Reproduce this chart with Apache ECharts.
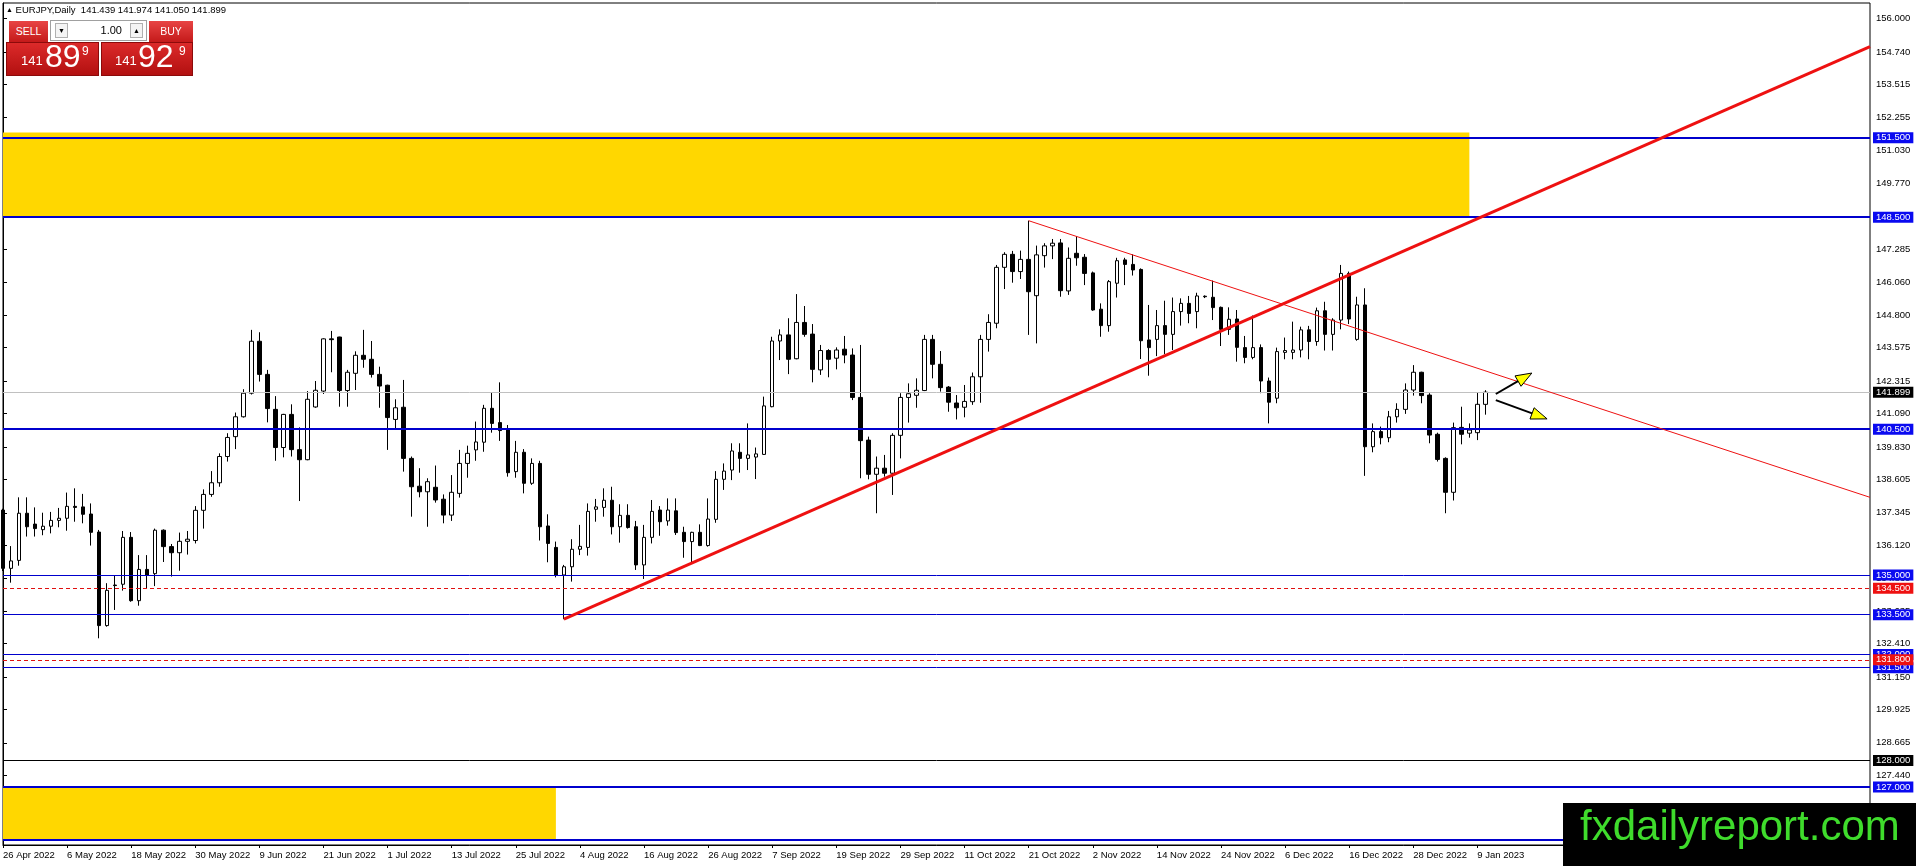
<!DOCTYPE html>
<html>
<head>
<meta charset="utf-8">
<script src="https://cdn.jsdelivr.net/npm/echarts@6/dist/echarts.min.js"></script>
<style>
html,body{margin:0;padding:0;background:#fff;}
#wrap{position:relative;width:1916px;height:866px;overflow:hidden;font-family:"Liberation Sans",Arial,sans-serif;}
#chart{position:absolute;left:0;top:0;width:1916px;height:866px;}
.abs{position:absolute;white-space:nowrap;}
#hdr{left:6px;top:4px;font-size:9.5px;line-height:12px;color:#000;}
#hdr .tri{font-size:7px;vertical-align:1px;}
.btn{background:linear-gradient(#e84444,#c41a1a);color:#fff;font-size:10.5px;text-align:center;line-height:21px;}
#sell{left:9px;top:21px;width:39px;height:21px;}
#buy{left:149px;top:21px;width:44px;height:21px;}
#lots{left:50px;top:20px;width:97px;height:21px;background:#fff;border:1px solid #a0a0a0;box-sizing:border-box;}
.spin{position:absolute;top:2px;width:13px;height:15px;border:1px solid #b0b0b0;box-sizing:border-box;font-size:7px;line-height:13px;text-align:center;color:#000;background:#f4f4f4;}
#lotval{position:absolute;right:24px;top:0;font-size:11px;line-height:19px;color:#000;}
.big{background:linear-gradient(#dc2a2a,#b21010);border:1px solid #8c0a0a;box-sizing:border-box;}
#bigL{left:6px;top:42px;width:93px;height:34px;}
#bigR{left:101px;top:42px;width:92px;height:34px;}
.pxs{font-size:13px;line-height:13px;color:#fff;}
.pxb{font-size:32px;line-height:32px;color:#fff;}
.pxu{font-size:12px;line-height:12px;color:#fff;}
#wm{left:1563px;top:803px;width:353px;height:63px;background:#000;}
#wmt{left:1580px;top:805px;font-size:42px;line-height:42px;color:#3fdc2c;}
</style>
</head>
<body>
<div id="wrap">
  <div id="chart"></div>
  <div id="hdr" class="abs"><span class="tri">▲</span> EURJPY,Daily&nbsp; 141.439 141.974 141.050 141.899</div>
  <div id="sell" class="abs btn">SELL</div>
  <div id="lots" class="abs"><div class="spin" style="left:4px;">▼</div><div id="lotval">1.00</div><div class="spin" style="left:79px;">▲</div></div>
  <div id="buy" class="abs btn">BUY</div>
  <div id="bigL" class="abs big"></div>
  <div id="bigR" class="abs big"></div>
  <div class="abs pxs" style="left:21px;top:54px;">141</div>
  <div class="abs pxb" style="left:45px;top:40px;">89</div>
  <div class="abs pxu" style="left:82px;top:45px;">9</div>
  <div class="abs pxs" style="left:115px;top:54px;">141</div>
  <div class="abs pxb" style="left:138px;top:40px;">92</div>
  <div class="abs pxu" style="left:179px;top:45px;">9</div>
  <div id="wm" class="abs"></div>
  <div id="wmt" class="abs">fxdailyreport.com</div>
</div>
<script>
// ---------- data ----------
const tickLabels = ['26 Apr 2022','6 May 2022','18 May 2022','30 May 2022','9 Jun 2022','21 Jun 2022','1 Jul 2022','13 Jul 2022','25 Jul 2022','4 Aug 2022','16 Aug 2022','26 Aug 2022','7 Sep 2022','19 Sep 2022','29 Sep 2022','11 Oct 2022','21 Oct 2022','2 Nov 2022','14 Nov 2022','24 Nov 2022','6 Dec 2022','16 Dec 2022','28 Dec 2022','9 Jan 2023'];

const opens = [
137.45,135.25,135.55,137.33,136.92,136.71,136.84,137.06,137.14,137.59,
137.57,137.30,136.62,133.09,134.62,134.65,136.42,134.03,135.21,135.05,
136.69,136.07,135.84,136.27,136.30,137.44,138.04,138.48,139.47,140.22,
140.97,141.86,143.82,142.57,141.25,139.81,141.06,139.73,139.35,141.34,
141.94,143.91,143.98,141.96,142.61,143.29,143.14,142.57,142.16,140.87,
141.33,139.40,138.35,138.14,138.31,137.86,137.26,138.08,139.21,139.72,
140.01,141.29,140.75,140.47,138.90,139.63,138.46,139.21,136.85,136.04,
135.00,135.31,135.97,136.04,137.48,137.55,137.82,136.82,137.25,136.82,
135.38,136.42,137.45,137.04,137.42,136.61,136.26,136.61,136.11,137.10,
138.61,138.96,139.63,139.40,139.45,139.55,141.35,143.83,144.06,143.16,
144.53,144.09,142.74,143.47,143.18,143.52,143.30,141.70,140.09,138.80,
139.03,138.84,140.27,141.70,141.78,141.96,143.89,142.95,142.09,141.49,
141.33,141.54,142.48,143.89,144.50,146.61,147.10,146.45,146.91,145.54,
147.05,147.42,147.53,145.72,147.14,146.99,146.40,145.03,144.41,146.01,
146.89,146.72,146.53,143.87,143.89,144.41,144.08,144.94,145.25,144.94,
145.52,145.48,145.10,144.27,144.66,143.58,143.21,143.58,142.32,141.67,
143.40,143.40,143.49,144.25,143.81,144.97,144.08,144.62,146.38,143.89,
145.19,139.84,140.41,140.18,140.97,141.25,141.98,142.65,141.79,140.31,
139.40,138.12,140.57,140.35,140.37,141.439];

const highs = [
137.50,136.09,137.93,137.93,137.55,137.35,137.38,137.53,138.11,138.27,
138.06,137.70,136.70,134.69,134.99,136.66,136.62,135.75,135.75,136.75,
136.72,136.17,136.60,136.66,137.60,138.23,138.92,139.59,140.35,141.13,
142.01,144.25,144.16,142.74,141.75,141.08,141.44,140.57,141.94,142.32,
143.93,144.21,143.99,142.74,143.44,144.25,143.83,142.86,142.18,141.63,
142.36,139.47,139.03,138.65,139.13,138.04,138.77,139.72,139.88,140.79,
141.42,141.89,142.27,140.66,140.06,139.75,139.40,139.31,137.29,136.26,
135.38,136.35,136.89,137.70,137.87,138.27,138.33,137.67,137.67,137.04,
136.89,137.83,137.60,137.89,137.89,136.82,136.63,136.91,137.89,138.92,
139.21,139.97,139.97,140.72,139.81,141.73,143.99,144.27,144.69,145.60,
145.15,144.47,143.68,143.52,143.59,144.02,143.55,143.68,140.22,139.47,
139.53,140.35,141.86,142.23,142.42,144.06,144.06,143.45,142.13,141.79,
142.17,142.64,144.06,144.84,146.70,147.18,147.23,147.24,148.37,147.43,
147.52,147.68,147.68,147.36,147.79,147.11,146.45,145.25,146.13,146.97,
146.97,147.10,146.57,145.19,145.00,145.35,145.47,145.44,145.53,145.65,
145.55,146.11,145.13,145.10,145.00,144.02,144.79,143.70,142.45,143.58,
143.96,144.56,144.37,144.40,145.09,145.31,144.69,146.70,146.45,145.50,
145.82,140.72,140.60,141.19,141.48,142.23,142.92,142.67,141.86,140.37,
139.44,140.75,141.35,140.72,141.88,141.974];

const lows = [
135.15,134.71,135.35,136.45,136.45,136.50,136.57,136.80,136.67,137.01,
136.95,136.11,132.61,133.05,133.68,134.41,133.99,133.84,134.50,134.58,
135.49,134.94,135.16,135.77,136.19,136.75,137.95,138.33,139.28,139.75,
140.94,141.81,142.30,140.76,139.31,139.44,139.47,137.79,139.33,141.31,
141.83,142.65,141.35,141.35,141.98,142.82,142.45,141.31,139.72,140.53,
138.90,137.20,137.93,136.82,137.73,136.95,137.04,137.92,138.67,139.31,
139.65,140.37,140.06,138.71,138.67,138.08,138.40,136.30,135.48,134.91,
133.33,134.75,135.75,135.73,137.01,137.20,136.53,136.22,136.75,135.19,
134.85,136.19,136.48,136.86,136.51,135.65,135.48,136.09,136.07,136.97,
138.21,138.58,138.86,138.96,138.62,139.53,141.33,143.11,142.58,143.14,
143.99,142.27,142.55,142.46,142.76,142.99,141.60,138.65,138.61,137.33,
138.71,138.02,139.40,140.75,141.31,141.94,142.42,141.92,141.16,140.87,
140.95,141.42,141.50,143.43,144.31,145.79,146.03,146.17,144.06,143.74,
146.60,146.92,145.50,145.57,146.67,145.94,144.97,143.99,144.18,145.47,
145.94,146.30,143.15,142.52,143.26,143.34,143.49,144.41,144.50,144.31,
145.45,144.62,143.64,144.06,143.05,142.99,143.14,141.86,140.72,141.48,
143.14,143.14,143.21,143.14,143.65,143.47,143.47,144.27,144.47,143.84,
138.74,139.63,139.93,140.01,140.75,141.08,141.77,141.48,139.97,139.28,
137.33,137.81,139.93,140.18,140.09,141.050];

const closes = [
135.25,135.53,137.33,136.82,136.75,136.84,137.06,137.14,137.59,137.55,
137.29,136.61,133.09,134.42,134.60,136.42,134.03,135.21,134.99,136.69,
136.07,135.84,136.27,136.35,137.44,138.04,138.48,139.47,140.19,140.97,
141.86,143.82,142.57,141.28,139.81,141.06,139.73,139.35,141.63,141.97,
143.91,143.88,141.96,142.65,143.29,143.14,142.57,142.13,140.94,141.31,
139.40,138.33,138.14,138.52,137.83,137.26,138.12,139.21,139.59,140.02,
141.29,140.72,140.45,138.86,139.63,138.46,139.21,136.82,136.19,135.00,
135.31,135.97,136.08,137.40,137.57,137.82,136.82,137.25,136.79,135.38,
136.42,137.40,137.01,137.45,136.60,136.26,136.61,136.11,137.11,138.61,
138.92,139.68,139.40,139.53,139.57,141.38,143.83,144.06,143.14,144.53,
144.08,142.76,143.47,143.14,143.49,143.30,141.70,140.07,138.80,139.03,
138.84,140.27,141.70,141.84,141.97,143.89,142.95,142.07,141.52,141.31,
141.55,142.48,143.89,144.53,146.61,147.10,146.45,146.91,145.69,147.08,
147.42,147.52,145.73,146.95,146.97,146.38,145.00,144.41,146.07,146.86,
146.72,146.51,143.84,143.58,144.41,144.08,144.94,145.25,144.87,145.53,
145.50,145.09,144.27,144.65,143.59,143.21,143.58,142.32,141.52,143.43,
143.47,143.49,144.25,143.81,144.97,144.08,144.62,146.38,144.66,145.19,
139.84,140.41,140.18,140.97,141.25,141.98,142.65,141.77,140.28,139.36,
138.12,140.56,140.31,140.47,141.44,141.899];

const yTicks = [156.000,154.740,153.515,152.255,151.030,149.770,148.545,147.285,146.060,144.800,143.575,142.315,141.090,139.830,138.605,137.345,136.120,134.860,133.635,132.410,131.150,129.925,128.665,127.440,126.180];

const bidPrice = 141.899;
const blueThickLevels = [151.5, 148.5, 140.5, 127.0, 125.0];
const blueThinLevels = [135.0, 133.5, 132.0, 131.5];
const blackLevels = [128.0];
const redDashedLevels = [134.5, 131.8];

const risingTrend = [[70, 133.33], [233, 154.94]];
const fallingTrend = [[128, 148.37], [233, 137.93]];
const upperZone = [0, 183, 151.7, 148.55];
const lowerZone = [0, 69, 127.0, 125.0];
const arrows = [[186.3, 141.83, 190.8, 142.62], [186.3, 141.60, 192.7, 140.89]];

// ---------- categories (trading days) ----------
const monthNames = ['Jan','Feb','Mar','Apr','May','Jun','Jul','Aug','Sep','Oct','Nov','Dec'];
const categories = [];
(function () {
  const d = new Date(Date.UTC(2022, 3, 26));
  while (categories.length < 234) {
    const wd = d.getUTCDay();
    if (wd !== 0 && wd !== 6) categories.push(d.getUTCDate() + ' ' + monthNames[d.getUTCMonth()] + ' ' + d.getUTCFullYear());
    d.setUTCDate(d.getUTCDate() + 1);
  }
})();

const candleData = opens.map((o, i) => [o, closes[i], lows[i], highs[i]]);

// ---------- styles ----------
const FONT = '"Liberation Sans", Arial, sans-serif';
const BLUE_LINE = '#0000cd', BLUE_BG = '#0a0af0', RED = '#e01010';
function levelLabel(v, bg) {
  const txt = v.toFixed(3);
  return { show: true, position: 'end', distance: 3, formatter: () => txt,
    color: '#fff', backgroundColor: bg, padding: [1, 3, 0, 3], fontSize: 9.5, fontFamily: FONT, lineHeight: 10 };
}
function hLine(v, color, width, type, bg) {
  return { yAxis: v, lineStyle: { color: color, width: width, type: type }, label: levelLabel(v, bg) };
}
const lineData = [];
lineData.push(hLine(bidPrice, '#c0c0c0', 1, 'solid', '#000'));
blueThickLevels.forEach(v => lineData.push(hLine(v, BLUE_LINE, 2, 'solid', BLUE_BG)));
blueThinLevels.forEach(v => lineData.push(hLine(v, BLUE_LINE, 1, 'solid', BLUE_BG)));
blackLevels.forEach(v => lineData.push(hLine(v, '#000', 1, 'solid', '#000')));
redDashedLevels.forEach(v => lineData.push(hLine(v, RED, 1, [4, 3], '#ee1111')));
function trend(pts, width) {
  const ls = { color: '#ee1111', width: width, type: 'solid' };
  return [{ coord: pts[0], lineStyle: ls, label: { show: false } }, { coord: pts[1], lineStyle: ls, label: { show: false } }];
}
lineData.push(trend(risingTrend, 3));
lineData.push(trend(fallingTrend, 1));

function zone(z) {
  return [{ xAxis: z[0], yAxis: z[2] }, { xAxis: z[1], yAxis: z[3] }];
}

const labelInterval = (idx) => idx % 8 === 0 && idx / 8 < tickLabels.length;

const chart = echarts.init(document.getElementById('chart'), null, { renderer: 'canvas' });
chart.setOption({
  animation: false,
  backgroundColor: '#fff',
  grid: { left: 3, right: 46, top: 3, bottom: 21, show: true, borderColor: '#000', borderWidth: 1, backgroundColor: 'transparent' },
  xAxis: [{
    type: 'category', data: categories, boundaryGap: false,
    axisLine: { show: true, lineStyle: { color: '#000', width: 1 } },
    axisTick: { show: true, interval: labelInterval, length: 3, lineStyle: { color: '#000' } },
    axisLabel: { show: true, interval: labelInterval, formatter: (v, idx) => tickLabels[idx / 8] || '', align: 'left',
      margin: 5, color: '#000', fontSize: 9.5, fontFamily: FONT },
    splitLine: { show: false }
  }, {
    type: 'value', min: 0, max: 233, show: false, gridIndex: 0
  }],
  yAxis: {
    type: 'value', position: 'right', min: 124.81, max: 156.585,
    axisLine: { show: true, lineStyle: { color: '#000', width: 1 } },
    axisTick: { show: true, customValues: yTicks, length: 4, lineStyle: { color: '#000' } },
    axisLabel: { show: true, customValues: yTicks, formatter: v => Number(v).toFixed(3), margin: 6,
      color: '#000', fontSize: 9.5, fontFamily: FONT },
    splitLine: { show: false }
  },
  series: [{
    type: 'candlestick',
    xAxisIndex: 0, yAxisIndex: 0,
    data: candleData,
    barWidth: 4,
    clip: true,
    silent: true,
    itemStyle: { color: '#fff', color0: '#000', borderColor: '#000', borderColor0: '#000', borderWidth: 1 },
    markArea: {
      silent: true,
      itemStyle: { color: '#ffd700', opacity: 1 },
      label: { show: false },
      data: [zone(upperZone), zone(lowerZone)]
    },
    markLine: {
      silent: true,
      symbol: ['none', 'none'],
      animation: false,
      data: lineData
    }
  }, {
    type: 'custom',
    xAxisIndex: 1, yAxisIndex: 0,
    z: 10,
    silent: true,
    clip: false,
    encode: { x: [0, 2], y: [1, 3] },
    data: arrows,
    renderItem: (params, api) => {
      const p0 = api.coord([api.value(0), api.value(1)]);
      const p1 = api.coord([api.value(2), api.value(3)]);
      const dx = p1[0] - p0[0], dy = p1[1] - p0[1];
      const len = Math.hypot(dx, dy) || 1, ux = dx / len, uy = dy / len;
      const hl = 16, hw = 6;
      const bx = p1[0] - ux * hl, by = p1[1] - uy * hl;
      return { type: 'group', children: [
        { type: 'line', shape: { x1: p0[0], y1: p0[1], x2: bx + ux * 3, y2: by + uy * 3 }, style: { stroke: '#000', lineWidth: 2 } },
        { type: 'polygon', shape: { points: [[p1[0], p1[1]], [bx - uy * hw, by + ux * hw], [bx + uy * hw, by - ux * hw]] },
          style: { fill: '#ffff00', stroke: '#000', lineWidth: 1 } }
      ] };
    }
  }]
});
</script>
</body>
</html>
